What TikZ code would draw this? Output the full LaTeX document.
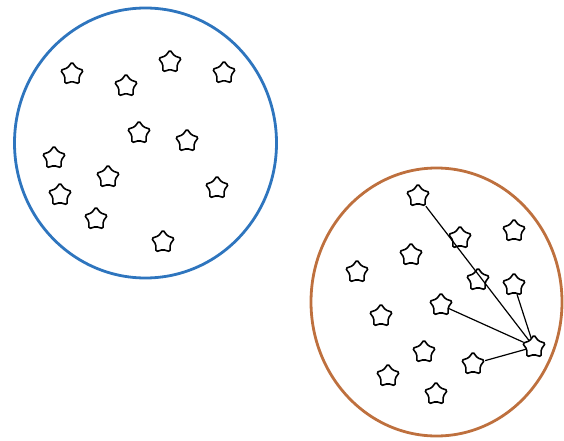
\documentclass[tikz,border=0pt]{standalone}
\usetikzlibrary{shapes.geometric}
\definecolor{cblue}{RGB}{46,117,190}
\definecolor{corange}{RGB}{190,112,62}
\begin{document}
\begin{tikzpicture}[x=1pt,y=-1pt,
  pt/.style={star,star points=5,star point ratio=1.6,minimum size=24pt,inner sep=0pt,draw=black,line width=1.6pt,rounded corners=1.5pt},
  ring/.style={line width=2.8pt},
  link/.style={draw=black,line width=1.2pt}]
\useasboundingbox (0,0) rectangle (564,441);
\draw[ring,cblue] (145.5,143) ellipse [x radius=131, y radius=135];
\draw[ring,corange] (436.5,302) ellipse [x radius=125.5, y radius=134];
% left cluster
\foreach \n/\x/\y in {l1/72/74,l2/126/86,l3/170/62,l4/224/73,l5/139/133,l6/187/141,l7/54/158,l8/108/177,l9/60/195,l10/96/219,l11/217/188,l12/163/242}
  \node[pt] (\n) at (\x,\y) {};
% right cluster
\foreach \n/\x/\y in {a/418/196,b/460/238,c/514/231,d/411/255,e/357/272,f/478/280,g/514/285,h/441/305,i/381/316,j/534/347,k/424/352,l/473/364,m/388/376,n/436/394}
  \node[pt] (\n) at (\x,\y) {};
\draw[link] (a) -- (j);
\draw[link] (g) -- (j);
\draw[link] (h) -- (j);
\draw[link] (l) -- (j);
\end{tikzpicture}
\end{document}
